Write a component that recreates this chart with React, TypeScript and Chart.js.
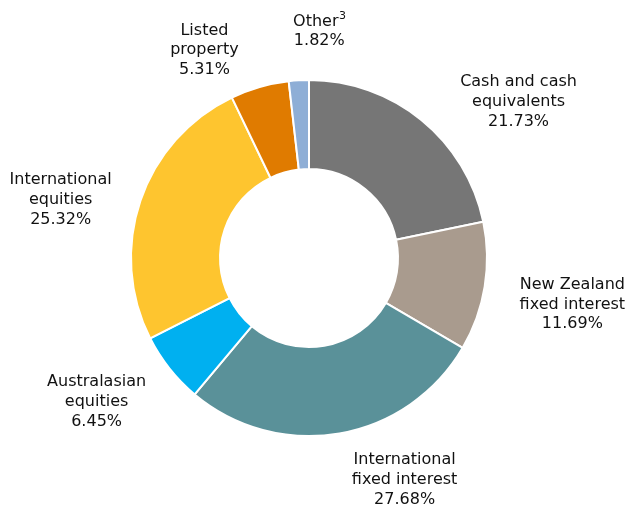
import React, { useEffect, useRef } from "react";
import { Chart, registerables } from "chart.js";

Chart.register(...registerables);

const categories: string[][] = [
  ["Cash and cash", "equivalents"],
  ["New Zealand", "fixed interest"],
  ["International", "fixed interest"],
  ["Australasian", "equities"],
  ["International", "equities"],
  ["Listed", "property"],
  ["Other³"],
];
const values: number[] = [21.73, 11.69, 27.68, 6.45, 25.32, 5.31, 1.82];
const colors: string[] = ["#767676", "#a99b8e", "#5a9199", "#00b0f0", "#fec52f", "#e07b00", "#8eaed6"];
// label placement: [angle from top in degrees (clockwise), distance as multiple of outer radius]
const labelPlacement: number[][] = [
  [53.3, 1.46],
  [100.0, 1.494],
  [156.7, 1.35],
  [235.9, 1.433],
  [283.2, 1.425],
  [333.3, 1.30],
  [2.6, 1.267],
];

const FONT = "'DejaVu Sans', Verdana, sans-serif";

function drawLine(ctx: CanvasRenderingContext2D, t: string, x: number, y: number) {
  const idx = t.indexOf("³");
  if (idx < 0) {
    ctx.textAlign = "center";
    ctx.font = "16px " + FONT;
    ctx.fillText(t, x, y);
    return;
  }
  const base = t.slice(0, idx);
  ctx.font = "16px " + FONT;
  const wb = ctx.measureText(base).width;
  ctx.font = "11px " + FONT;
  const ws = ctx.measureText("3").width;
  const left = x - (wb + ws) / 2;
  ctx.textAlign = "left";
  ctx.font = "16px " + FONT;
  ctx.fillText(base, left, y);
  ctx.font = "11px " + FONT;
  ctx.fillText("3", left + wb + 0.5, y - 5);
  ctx.textAlign = "center";
}

const labelPlugin = {
  id: "outerLabels",
  afterDraw(chart: any) {
    const ctx = chart.ctx;
    const meta = chart.getDatasetMeta(0);
    if (!meta.data.length) return;
    const arc: any = meta.data[0];
    const cx = arc.x;
    const cy = arc.y;
    const R = arc.outerRadius + 1;
    ctx.save();
    ctx.fillStyle = "#111111";
    ctx.textBaseline = "middle";
    const lh = 19.7;
    categories.forEach((lines, i) => {
      const [deg, f] = labelPlacement[i];
      const a = (deg * Math.PI) / 180;
      const x = cx + Math.sin(a) * R * f;
      const y = cy - Math.cos(a) * R * f;
      const all = [...lines, values[i].toFixed(2) + "%"];
      const top = y - ((all.length - 1) * lh) / 2;
      all.forEach((t, j) => drawLine(ctx, t, x, top + j * lh));
    });
    ctx.restore();
  },
};

export default function App() {
  const ref = useRef<HTMLCanvasElement>(null);
  useEffect(() => {
    if (!ref.current) return;
    const chart = new Chart(ref.current, {
      type: "doughnut",
      data: {
        labels: categories.map((l) => l.join(" ")),
        datasets: [
          {
            data: values,
            backgroundColor: colors,
            borderColor: "#ffffff",
            borderWidth: 2,
          },
        ],
      },
      options: {
        animation: false,
        responsive: false,
        cutout: "50%",
        layout: { padding: { top: 79, bottom: 70, left: 0, right: 9 } },
        plugins: {
          legend: { display: false },
          tooltip: { enabled: false },
        },
      },
      plugins: [labelPlugin],
    });
    return () => chart.destroy();
  }, []);
  return (
    <div style={{ position: "absolute", left: 0, top: 0, width: 627, height: 507, background: "#fff" }}>
      <canvas ref={ref} width={627} height={507} style={{ width: 627, height: 507 }} />
    </div>
  );
}
